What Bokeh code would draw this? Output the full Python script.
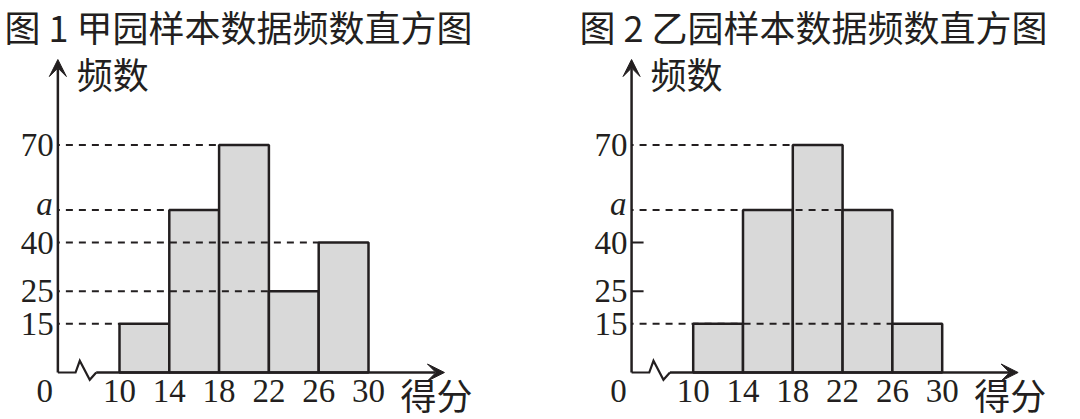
from bokeh.plotting import figure
from bokeh.layouts import row
from bokeh.models import Range1d, Arrow, VeeHead
from bokeh.core.properties import value
from bokeh.embed import file_html
from bokeh.resources import INLINE

# ---------------- data ----------------
edges = [10, 14, 18, 22, 26, 30]
freq_jia = [15, 50, 70, 25, 40]          # 图1 甲园 (a = 50)
freq_yi = [15, 50, 70, 50, 15]           # 图2 乙园 (a = 50)
y_tick_values = [15, 25, 40, 70]
y_tick_labels = ["15", "25", "40", "70"]
a_value = 50
a_label = "a"
x_tick_labels = ["10", "14", "18", "22", "26", "30"]
origin_label = "0"
titles = ["图 1 甲园样本数据频数直方图", "图 2 乙园样本数据频数直方图"]
x_axis_title = "得分"
y_axis_title = "频数"

# ---------------- style ----------------
SERIF = "Liberation Serif"
CJK = "Noto Sans CJK SC"
INK = "#231f20"
FILL = "#d9d9d9"
PX_X = 12.45          # pixels per score unit
PX_Y = 3.25           # pixels per frequency unit
HEIGHT = 419
ZERO_PX = 372         # pixel row of the x axis
AXIS_X = 5.05         # broken axis: where the vertical axis sits
ARROW_X = 36.1
ARROW_Y = 96.3
Y_START = -(HEIGHT - ZERO_PX) / PX_Y
Y_END = ZERO_PX / PX_Y


def make_panel(title, freqs, width, x_start):
    p = figure(width=width, height=HEIGHT, output_backend="svg", toolbar_location=None,
               x_axis_type=None, y_axis_type=None, min_border=0,
               x_range=Range1d(x_start, x_start + width / PX_X),
               y_range=Range1d(Y_START, Y_END))
    p.grid.visible = False
    p.outline_line_color = None
    p.background_fill_color = "white"
    p.border_fill_color = "white"

    # title
    p.text(x=[x_start], y=[Y_END], text=[title], x_offset=4, y_offset=25,
           text_align="left", text_baseline="middle",
           text_font=value(CJK), text_font_size="36px", text_color=INK)

    # bars
    p.quad(left=edges[:-1], right=edges[1:], bottom=0, top=freqs,
           fill_color=FILL, line_color=INK, line_width=2.5)

    # dashed guides (to the last bar of that height) or short ticks
    for v in y_tick_values + [a_value]:
        hits = [i for i, f in enumerate(freqs) if f == v]
        if hits:
            p.segment(x0=[AXIS_X], y0=[v], x1=[edges[hits[-1]]], y1=[v],
                      line_color=INK, line_width=2.2, line_dash="7 6", line_dash_offset=-8)
        else:
            p.ray(x=[AXIS_X], y=[v], length=12, length_units="screen", angle=0,
                  line_color=INK, line_width=2.2)

    # y axis with arrow
    p.add_layout(Arrow(end=VeeHead(size=17, fill_color=INK, line_color=INK, line_width=1),
                       x_start=AXIS_X, y_start=0, x_end=AXIS_X, y_end=ARROW_Y,
                       line_color=INK, line_width=2.5))
    # x axis with break zigzag and arrow
    zx = [AXIS_X + d for d in (0, 1.42, 1.76, 2.56, 3.08)]
    zy = [0, 0, 3.6, -2.25, 0]
    p.line(zx, zy, line_color=INK, line_width=2.2, line_join="miter")
    p.add_layout(Arrow(end=VeeHead(size=17, fill_color=INK, line_color=INK, line_width=1),
                       x_start=zx[-1], y_start=0, x_end=ARROW_X, y_end=0,
                       line_color=INK, line_width=2.5))

    # y tick labels
    p.text(x=[AXIS_X] * len(y_tick_values), y=y_tick_values, text=y_tick_labels,
           x_offset=-4, y_offset=0, text_align="right", text_baseline="middle",
           text_font=value(SERIF), text_font_size="33px", text_color=INK)
    p.text(x=[AXIS_X], y=[a_value], text=[a_label],
           x_offset=-5, y_offset=-6, text_align="right", text_baseline="middle",
           text_font=value(SERIF), text_font_size="33px", text_font_style="italic",
           text_color=INK)
    # x tick labels
    p.text(x=edges, y=[0] * len(edges), text=x_tick_labels,
           y_offset=18, text_align="center", text_baseline="middle",
           text_font=value(SERIF), text_font_size="33px", text_color=INK)
    p.text(x=[AXIS_X], y=[0], text=[origin_label],
           x_offset=-13, y_offset=18, text_align="center", text_baseline="middle",
           text_font=value(SERIF), text_font_size="33px", text_color=INK)
    # axis titles
    p.text(x=[ARROW_X], y=[0], text=[x_axis_title],
           x_offset=28, y_offset=21, text_align="right", text_baseline="middle",
           text_font=value(CJK), text_font_size="36px", text_color=INK)
    p.text(x=[AXIS_X], y=[ARROW_Y], text=[y_axis_title],
           x_offset=19, y_offset=13, text_align="left", text_baseline="middle",
           text_font=value(CJK), text_font_size="36px", text_color=INK)
    return p


left = make_panel(titles[0], freq_jia, 575, 10 - 119 / PX_X)
right = make_panel(titles[1], freq_yi, 505, 10 - (692.7 - 575) / PX_X)
layout = row(left, right, spacing=0)

open("out.html", "w").write(file_html(layout, INLINE))
